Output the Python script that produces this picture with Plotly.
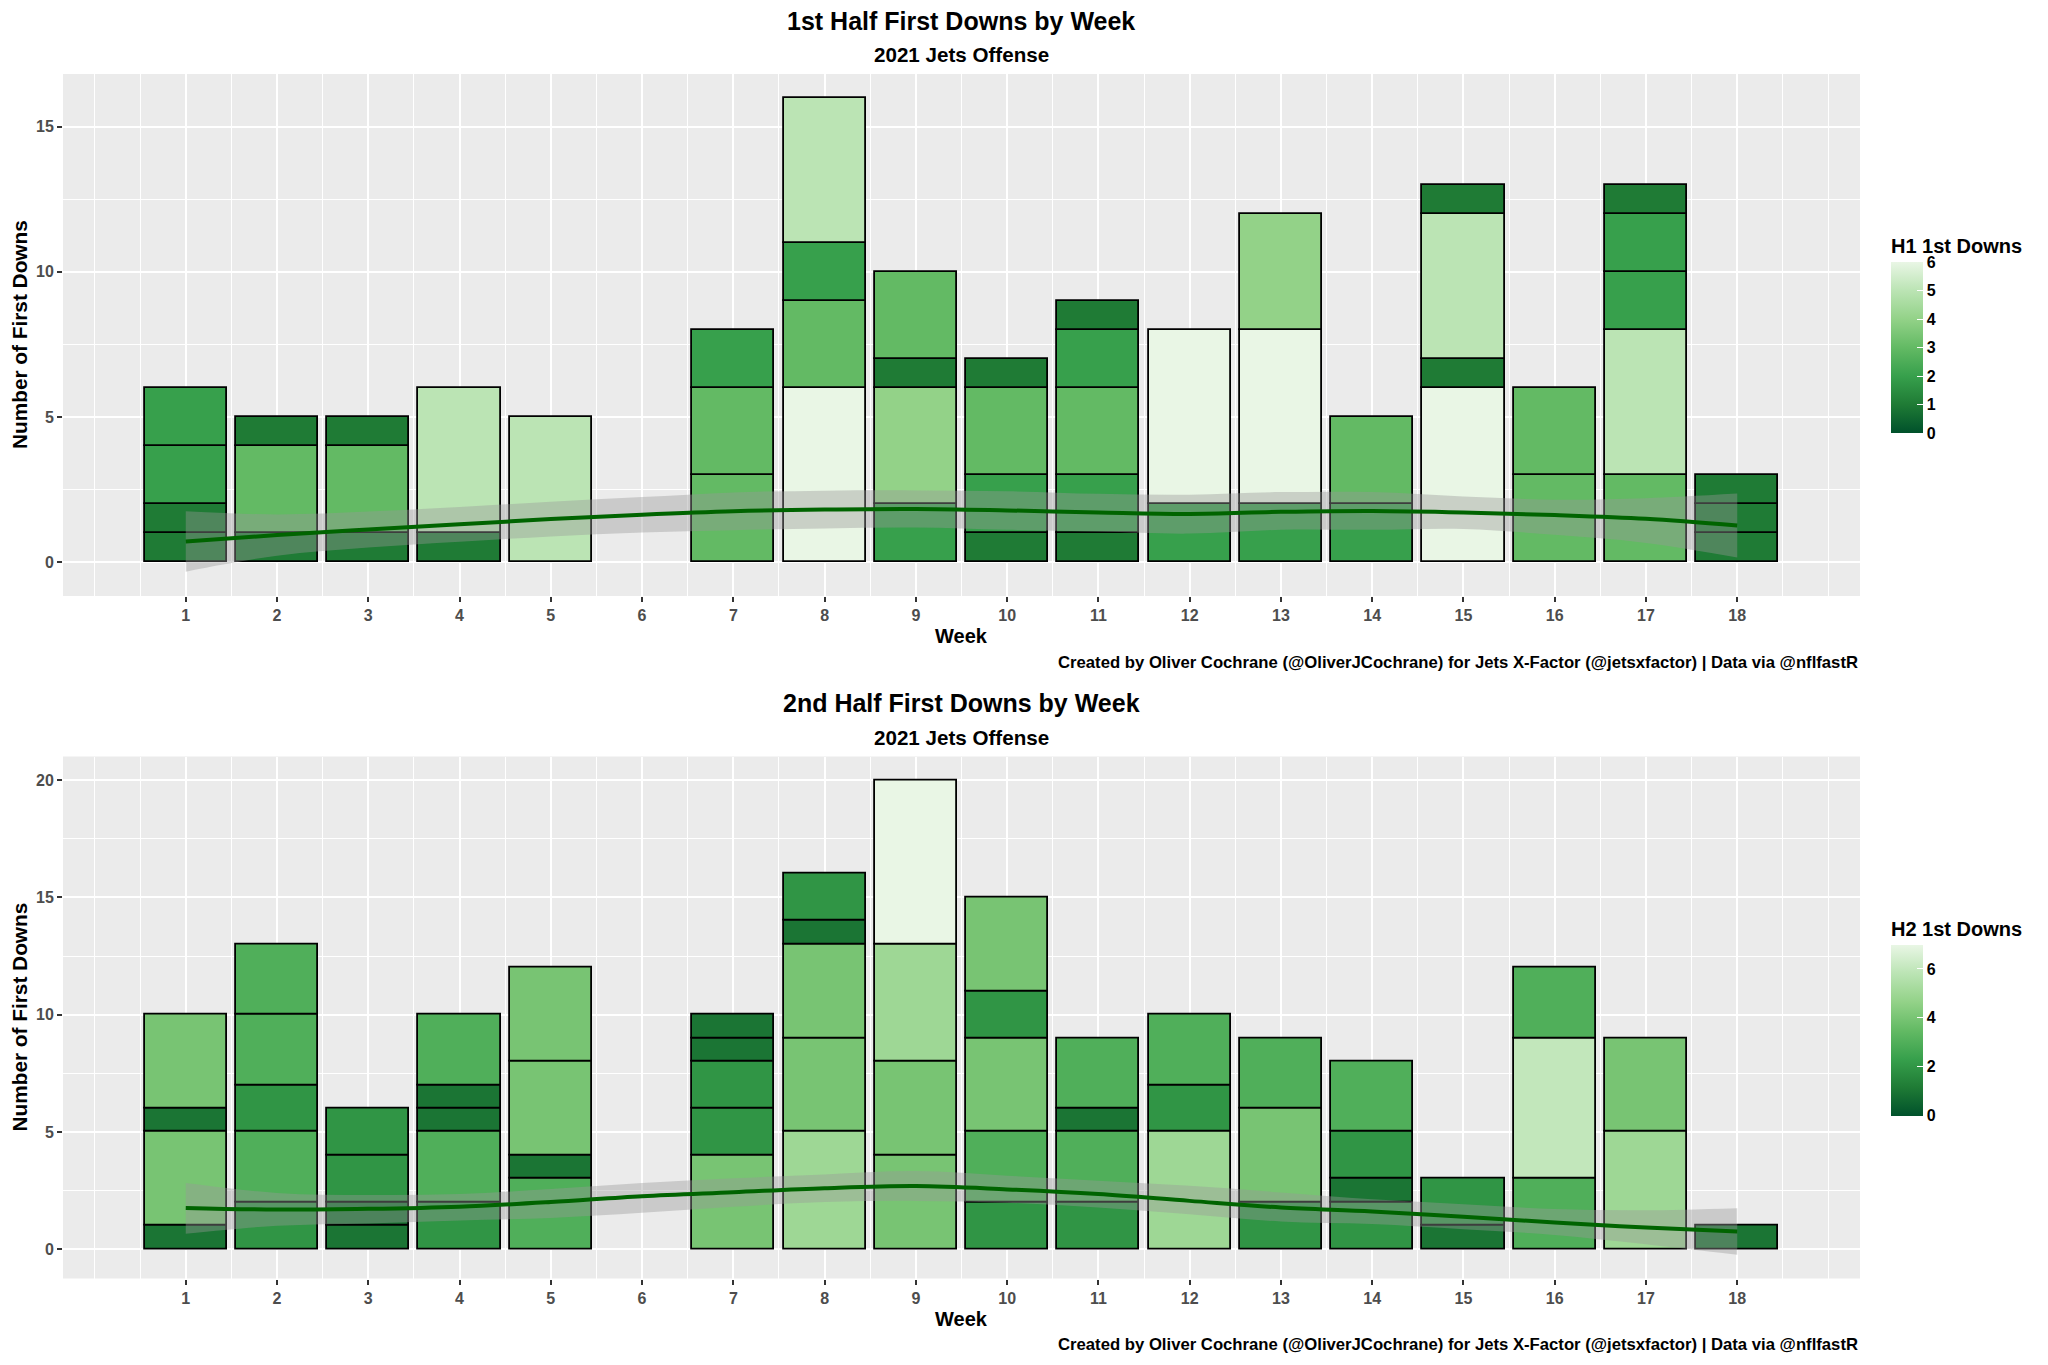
import plotly.graph_objects as go

# ---------------- DATA ----------------
# 1st half: one entry per drive segment, stacked bottom-to-top within each week
h1_weeks = [1, 1, 1, 1, 2, 2, 2, 3, 3, 3, 4, 4, 5, 7, 7, 7, 8, 8, 8, 8,
            9, 9, 9, 9, 10, 10, 10, 10, 11, 11, 11, 11, 11, 12, 12, 13, 13, 13,
            14, 14, 15, 15, 15, 15, 16, 16, 17, 17, 17, 17, 17, 18, 18, 18]
h1_first_downs = [1, 1, 2, 2, 1, 3, 1, 1, 3, 1, 1, 5, 5, 3, 3, 2, 6, 3, 2, 5,
                  2, 4, 1, 3, 1, 2, 3, 1, 1, 2, 3, 2, 1, 2, 6, 2, 6, 4,
                  2, 3, 6, 1, 5, 1, 3, 3, 3, 5, 2, 2, 1, 1, 1, 1]

# 2nd half
h2_weeks = [1, 1, 1, 1, 2, 2, 2, 2, 2, 3, 3, 3, 3, 4, 4, 4, 4, 4, 5, 5, 5, 5,
            7, 7, 7, 7, 7, 8, 8, 8, 8, 8, 9, 9, 9, 9, 10, 10, 10, 10, 10,
            11, 11, 11, 11, 12, 12, 12, 13, 13, 13, 14, 14, 14, 14, 15, 15,
            16, 16, 16, 17, 17, 18]
h2_first_downs = [1, 4, 1, 4, 2, 3, 2, 3, 3, 1, 1, 2, 2, 2, 3, 1, 1, 3, 3, 1, 4, 4,
                  4, 2, 2, 1, 1, 5, 4, 4, 1, 2, 4, 4, 5, 7, 2, 3, 4, 2, 4,
                  2, 3, 1, 3, 5, 2, 3, 2, 4, 3, 2, 1, 2, 3, 1, 2,
                  3, 6, 3, 5, 4, 1]

# smoothed trend (loess), weeks 1..18
smooth_weeks = list(range(1, 19))
h1_fit = [0.71, 0.93, 1.12, 1.30, 1.48, 1.63, 1.75, 1.81, 1.83, 1.78, 1.71, 1.66,
          1.73, 1.76, 1.71, 1.62, 1.49, 1.26]
h1_upper = [1.75, 1.64, 1.74, 1.90, 2.08, 2.24, 2.40, 2.46, 2.47, 2.44, 2.35, 2.32,
            2.41, 2.41, 2.26, 2.15, 2.20, 2.36]
h1_lower = [-0.33, 0.22, 0.50, 0.70, 0.88, 1.02, 1.10, 1.16, 1.19, 1.11, 1.05, 0.98,
            1.11, 1.11, 1.14, 0.94, 0.66, 0.16]

h2_fit = [1.76, 1.69, 1.72, 1.81, 2.01, 2.26, 2.43, 2.60, 2.69, 2.55, 2.35, 2.06,
          1.78, 1.61, 1.38, 1.14, 0.92, 0.75]
h2_upper = [2.82, 2.40, 2.31, 2.35, 2.57, 2.82, 3.02, 3.19, 3.33, 3.13, 2.92, 2.70,
            2.42, 2.13, 1.92, 1.71, 1.66, 1.75]
h2_lower = [0.66, 1.00, 1.10, 1.22, 1.33, 1.55, 1.81, 2.01, 2.06, 1.98, 1.78, 1.49,
            1.18, 1.07, 0.85, 0.61, 0.21, -0.24]

week_ticks = list(range(1, 19))

# ---------------- STYLE ----------------
W, H = 2048, 1365
FONT = "Liberation Sans, Arial, sans-serif"
greens = [[0.0, "#00512b"], [1 / 6, "#1f7b35"], [2 / 6, "#37a04c"], [3 / 6, "#63ba64"],
          [4 / 6, "#93d288"], [5 / 6, "#bbe4b4"], [1.0, "#e9f6e5"]]


def pxx(x):
    return x / W


def pxy(y):
    return 1 - y / H


def stack_bases(weeks, values):
    bases, run = [], {}
    for w, v in zip(weeks, values):
        b = run.get(w, 0)
        bases.append(b)
        run[w] = b + v
    return bases


fig = go.Figure()

panels = [
    dict(weeks=h1_weeks, vals=h1_first_downs, fit=h1_fit, up=h1_upper, lo=h1_lower,
         xa="x", ya="y", ca="coloraxis"),
    dict(weeks=h2_weeks, vals=h2_first_downs, fit=h2_fit, up=h2_upper, lo=h2_lower,
         xa="x2", ya="y2", ca="coloraxis2"),
]

for p in panels:
    fig.add_trace(go.Bar(
        x=p["weeks"], y=p["vals"], base=stack_bases(p["weeks"], p["vals"]),
        width=0.9, xaxis=p["xa"], yaxis=p["ya"],
        marker=dict(color=p["vals"], coloraxis=p["ca"],
                    line=dict(color="black", width=1.8)),
        showlegend=False, hoverinfo="skip"))
    fig.add_trace(go.Scatter(
        x=smooth_weeks, y=p["lo"], mode="lines", line=dict(width=0, shape="spline"),
        xaxis=p["xa"], yaxis=p["ya"], showlegend=False, hoverinfo="skip"))
    fig.add_trace(go.Scatter(
        x=smooth_weeks, y=p["up"], mode="lines", line=dict(width=0, shape="spline"),
        fill="tonexty", fillcolor="rgba(153,153,153,0.4)",
        xaxis=p["xa"], yaxis=p["ya"], showlegend=False, hoverinfo="skip"))
    fig.add_trace(go.Scatter(
        x=smooth_weeks, y=p["fit"], mode="lines",
        line=dict(color="#006400", width=4, shape="spline"),
        xaxis=p["xa"], yaxis=p["ya"], showlegend=False, hoverinfo="skip"))

tickfont = dict(family=FONT, size=16, color="#4D4D4D", weight="bold")
xminor = dict(tickvals=[0] + [w + 0.5 for w in range(0, 19)] + [19], showgrid=True,
              gridcolor="white", gridwidth=1, ticks="")


def xaxis_cfg(anchor):
    return dict(domain=[pxx(63), pxx(1860)], anchor=anchor, range=[-0.345, 19.345],
                tickvals=week_ticks, showgrid=True, gridcolor="white", gridwidth=2,
                ticks="outside", ticklen=5, tickwidth=1.5, tickcolor="#333333",
                tickfont=tickfont, zeroline=False, showline=False, minor=xminor,
                fixedrange=True)


def yaxis_cfg(anchor, dom, rng, major, minor_vals):
    return dict(domain=dom, anchor=anchor, range=rng, tickvals=major,
                showgrid=True, gridcolor="white", gridwidth=2, ticks="outside",
                ticklen=5, tickwidth=1.5, tickcolor="#333333", tickfont=tickfont,
                zeroline=False, showline=False,
                minor=dict(tickvals=minor_vals, showgrid=True, gridcolor="white",
                           gridwidth=1, ticks=""), fixedrange=True)


OFF = 682.5


def cbar(title, yc, ticks):
    return dict(title=dict(text=title, side="top",
                           font=dict(family=FONT, size=20, color="black", weight="bold")),
                x=pxx(1891), xanchor="left", y=pxy(yc), yanchor="middle",
                thickness=32, len=198, lenmode="pixels",
                xpad=0, ypad=0, outlinewidth=0,
                tickvals=ticks, ticks="inside", ticklen=6, tickcolor="white",
                tickfont=dict(family=FONT, size=16, color="black", weight="bold"))


fig.update_layout(
    width=W, height=H, margin=dict(l=0, r=0, t=0, b=0),
    paper_bgcolor="white", plot_bgcolor="#EBEBEB",
    barmode="overlay", bargap=0,
    xaxis=xaxis_cfg("y"),
    xaxis2=xaxis_cfg("y2"),
    yaxis=yaxis_cfg("x", [pxy(596), pxy(74)], [-1.17, 16.82], [0, 5, 10, 15],
                    [2.5, 7.5, 12.5]),
    yaxis2=yaxis_cfg("x2", [pxy(596 + OFF), pxy(74 + OFF)], [-1.25, 21.01],
                     [0, 5, 10, 15, 20], [2.5, 7.5, 12.5, 17.5]),
    coloraxis=dict(cmin=0, cmax=6, colorscale=greens,
                   colorbar=cbar("H1 1st Downs", 334, [0, 1, 2, 3, 4, 5, 6])),
    coloraxis2=dict(cmin=0, cmax=7, colorscale=greens,
                    colorbar=cbar("H2 1st Downs", 334 + OFF, [0, 2, 4, 6])),
)

annos = []
for off, title in [(0, "1st Half First Downs by Week"), (OFF, "2nd Half First Downs by Week")]:
    annos += [
        dict(text=title, x=pxx(961), y=pxy(21 + off), xanchor="center", yanchor="middle",
             font=dict(family=FONT, size=25, color="black", weight="bold")),
        dict(text="2021 Jets Offense", x=pxx(961), y=pxy(55 + off), xanchor="center",
             yanchor="middle", font=dict(family=FONT, size=20.6, color="black", weight="bold")),
        dict(text="Week", x=pxx(961), y=pxy(636 + off), xanchor="center", yanchor="middle",
             font=dict(family=FONT, size=20, color="black", weight="bold")),
        dict(text="Number of First Downs", x=pxx(19), y=pxy(335 + off), textangle=-90,
             xanchor="center", yanchor="middle",
             font=dict(family=FONT, size=20.8, color="black", weight="bold")),
        dict(text="Created by Oliver Cochrane (@OliverJCochrane) for Jets X-Factor (@jetsxfactor) | Data via @nflfastR",
             x=pxx(1860), y=pxy(662 + off), xanchor="right", yanchor="middle",
             font=dict(family=FONT, size=16.7, color="black", weight="bold")),
    ]
for a in annos:
    a.update(xref="paper", yref="paper", showarrow=False)
fig.update_layout(annotations=annos)

fig.write_html("out.html", config={"displayModeBar": False},
               post_script="document.body.style.margin='0';")
